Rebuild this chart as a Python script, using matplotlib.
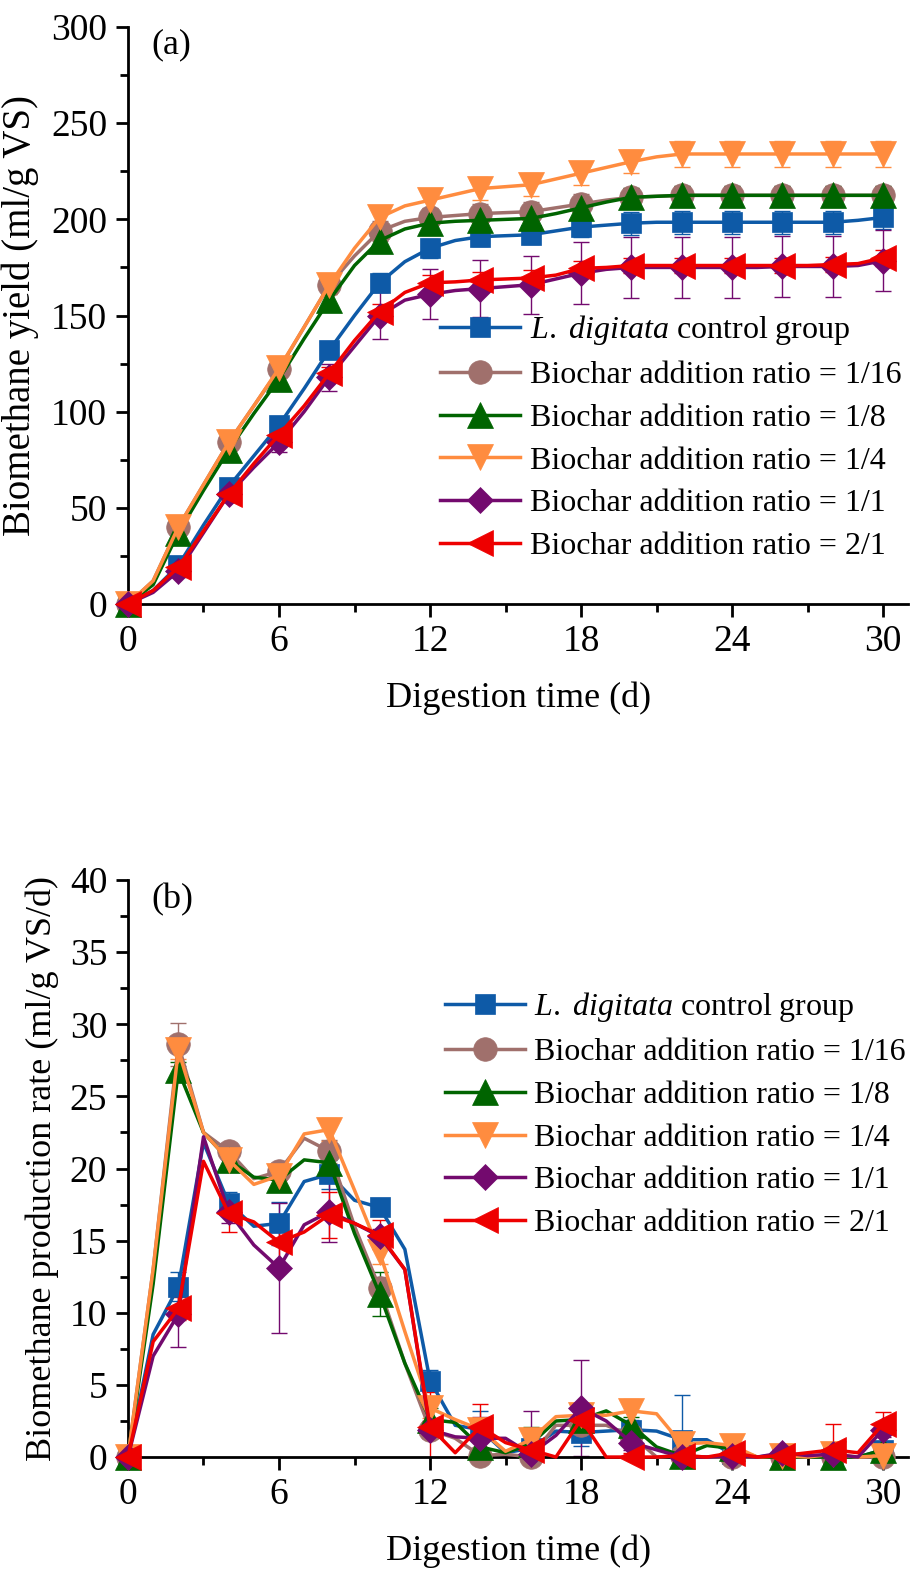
import numpy as np
import matplotlib
matplotlib.use("Agg")
import matplotlib.pyplot as plt
from matplotlib.ticker import MultipleLocator

plt.rcParams['font.family'] = ['Liberation Serif', 'DejaVu Serif']
plt.rcParams['mathtext.fontset'] = 'custom'
plt.rcParams['mathtext.rm'] = 'Liberation Serif'
plt.rcParams['mathtext.it'] = 'Liberation Serif:italic'

days = list(range(31))

labels = [r"$\mathit{L.}$ $\mathit{digitata}$ control group",
          "Biochar addition ratio = 1/16",
          "Biochar addition ratio = 1/8",
          "Biochar addition ratio = 1/4",
          "Biochar addition ratio = 1/1",
          "Biochar addition ratio = 2/1"]

# ---- Panel (a): cumulative biomethane yield (ml/g VS), daily
yield_control = [0, 7, 20, 41, 61, 77, 93, 112, 132, 150, 167, 178, 185, 189, 191, 191.5,
                 192, 194, 196, 197, 198, 198.5, 198.5, 198.5, 198.5, 198.5, 198.5, 198.5, 198.5, 199.5, 201]
yield_1_16 = [0, 12, 40, 62, 84, 103, 122, 144, 166, 181, 194, 199, 201, 202, 203, 203.5,
              204, 206, 208, 210, 211.5, 212, 212.5, 212.5, 212.5, 212.5, 212.5, 212.5, 212.5, 212.5, 212.5]
yield_1_8 = [0, 10, 37, 59, 80, 99, 117, 138, 158, 176, 189, 195, 198, 199, 199.5, 200,
             200.5, 203, 206, 209, 211.5, 212, 212.5, 212.5, 212.5, 212.5, 212.5, 212.5, 212.5, 212.5, 212.5]
yield_1_4 = [0, 12, 40, 62, 84, 103, 122.5, 144, 166, 185, 201, 207, 210, 213, 216, 217,
             218, 221, 224, 227, 230, 232.5, 234, 234, 234, 234, 234, 234, 234, 234, 234]
yield_1_1 = [0, 6, 17, 37, 57, 71, 84, 100, 118, 134, 150, 158, 161, 163, 164, 165,
             166, 169, 172, 174, 175, 175, 175, 175, 175, 175, 175.5, 175.5, 175.5, 176, 178.5]
yield_2_1 = [0, 7, 19, 38, 57, 73, 88, 103, 120, 137, 152, 162, 167, 167.5, 168.5, 169,
             169.5, 171, 174.5, 175, 176, 176, 176, 176, 176, 176, 176, 176, 176.5, 177, 180]

# error bars (a) at marker days 0,2,...,30
yerr_control = [0, 3, 4, 4, 4, 5, 5, 5, 5, 5, 6, 6, 6, 6, 6, 6]
yerr_1_16 = [0, 3, 4, 4, 5, 5, 5, 5, 5, 5, 5, 5, 5, 5, 5, 5]
yerr_1_8 = [0, 4, 5, 5, 5, 5, 5, 5, 5, 5, 5, 5, 5, 5, 5, 5]
yerr_1_4 = [0, 3, 4, 4, 5, 5, 6, 6, 6, 6, 6, 7, 7, 7, 7, 7]
yerr_1_1 = [0, 3, 4, 5, 7, 12, 13, 15, 15, 16, 16, 16, 16, 16, 16, 16]
yerr_2_1 = [0, 2, 3, 3, 3, 4, 4, 4, 4, 4, 4, 4, 4, 4, 4, 4]

# ---- Panel (b): daily biomethane production rate (ml/g VS/d)
rate_control = [0, 8.5, 11.8, 21.8, 17.6, 16.0, 16.2, 19.1, 19.6, 17.8, 17.3, 14.4, 5.3, 2.2, 1.9, 0.3,
                0.6, 1.8, 1.7, 1.8, 1.9, 1.8, 1.2, 1.2, 0.2, 0, 0.2, 0, 0, 0, 0.5]
rate_1_16 = [0, 13, 28.6, 22.5, 21.2, 19.3, 19.8, 22.1, 21.2, 16.0, 11.7, 6.5, 1.9, 1.3, 0.1, 0.2,
             0, 2.2, 2.2, 2.2, 1.5, 0, 0.1, 0, 0, 0, 0, 0, 0, 0, 0]
rate_1_8 = [0, 12, 26.8, 22.5, 20.6, 19.4, 19.2, 20.6, 20.4, 15.5, 11.3, 6.5, 2.6, 2.4, 0.7, 0.3,
            0.9, 2.5, 2.6, 3.2, 2.2, 0.7, 0.1, 0.8, 0.6, 0, 0, 0, 0, 0, 0.5]
rate_1_4 = [0, 13, 28.2, 22.5, 20.6, 18.9, 19.5, 22.4, 22.7, 18.5, 14.2, 8.7, 3.4, 2.6, 1.9, 0.4,
            1.2, 2.8, 2.9, 2.9, 3.2, 3.0, 0.9, 1.0, 0.8, 0, 0.1, 0, 0.2, 0, 0.1]
rate_1_1 = [0, 7, 9.9, 22.2, 17.0, 14.7, 13.1, 16.1, 17.0, 16.2, 15.3, 13.0, 1.9, 1.4, 1.3, 1.3,
            0.2, 1.5, 3.4, 2.5, 1.0, 0.5, 0, 0, 0.1, 0, 0.3, 0.1, 0.2, 0, 1.9]
rate_2_1 = [0, 8, 10.3, 20.5, 16.9, 16.3, 14.9, 15.6, 16.8, 16.2, 15.4, 13.0, 2.1, 0.3, 2.1, 1.0,
            0.5, 0, 2.6, 0, 0, 0, 0.1, 0, 0.3, 0, 0.1, 0.3, 0.5, 0.3, 2.3]

rerr_control = [0, 1.0, 0.8, 1.5, 1.0, 0.5, 0.7, 1.3, 0.6, 0.9, 0.7, 3.1, 0.5, 0.3, 0.3, 0.3]
rerr_1_16 = [0, 1.5, 0.6, 0.6, 0.8, 0.8, 0.6, 0.3, 0.3, 0.4, 0.5, 0.3, 0.2, 0.2, 0.2, 0.2]
rerr_1_8 = [0, 0.6, 0.5, 0.7, 0.8, 1.5, 0.8, 0.6, 1.2, 0.6, 0.6, 0.4, 0.6, 0.3, 0.2, 0.3]
rerr_1_4 = [0, 0.6, 0.6, 0.7, 0.8, 0.8, 0.7, 0.4, 0.6, 0.5, 0.8, 0.3, 0.3, 0.2, 0.2, 0.2]
rerr_1_1 = [0, 2.3, 0.8, 4.5, 2.1, 0.5, 0.6, 1.5, 3.0, 3.3, 0.5, 1.0, 0.4, 0.3, 0.3, 0.5]
rerr_2_1 = [0, 0.8, 1.3, 1.6, 1.6, 1.0, 2.4, 1.6, 0.8, 0.6, 0.3, 0.3, 0.3, 0.3, 1.8, 0.8]

colors = ['#0E5AA7', '#A0706C', '#006400', '#FF8C3F', '#730A6E', '#EE0000']
markers = ['s', 'o', '^', 'v', 'D', '<']
msizes = [15, 17, 19, 19, 13, 19]

yields = [yield_control, yield_1_16, yield_1_8, yield_1_4, yield_1_1, yield_2_1]
yerrs = [yerr_control, yerr_1_16, yerr_1_8, yerr_1_4, yerr_1_1, yerr_2_1]
rates = [rate_control, rate_1_16, rate_1_8, rate_1_4, rate_1_1, rate_2_1]
rerrs = [rerr_control, rerr_1_16, rerr_1_8, rerr_1_4, rerr_1_1, rerr_2_1]

fig = plt.figure(figsize=(9.24, 15.74), dpi=100)
axA = fig.add_axes([0.1385, 0.6163, 0.8445, 0.3665])
axB = fig.add_axes([0.1385, 0.0743, 0.8445, 0.3666])

TICK_FS = 27
LABEL_FS = 26
LEG_FS = 23


def draw(ax, series, errs):
    x = np.array(days)
    xe = x[::2]
    handles = []
    for i in range(6):
        y = np.array(series[i], dtype=float)
        ax.errorbar(xe, y[::2], yerr=errs[i], fmt='none', ecolor=colors[i],
                    elinewidth=1.0, capsize=6, capthick=1.0, zorder=2 + i * 0.1)
        h, = ax.plot(x, y, color=colors[i], lw=2.5, marker=markers[i], ms=msizes[i],
                     markevery=2, mec=colors[i], mew=0.5, zorder=3 + i * 0.1,
                     label=labels[i], clip_on=False)
        handles.append(h)
    for s in ['top', 'right']:
        ax.spines[s].set_visible(False)
    for s in ['left', 'bottom']:
        ax.spines[s].set_linewidth(2.0)
    ax.set_xlim(0, 31)
    ax.xaxis.set_major_locator(MultipleLocator(6))
    ax.xaxis.set_minor_locator(MultipleLocator(3))
    ax.tick_params(which='major', direction='out', length=9, width=2.0, labelsize=TICK_FS, pad=6)
    ax.tick_params(which='minor', direction='out', length=6, width=2.0)
    ax.set_xlabel("Digestion time (d)", fontsize=LABEL_FS, labelpad=16)
    return handles


hA = draw(axA, yields, yerrs)
axA.set_ylim(0, 300)
axA.yaxis.set_major_locator(MultipleLocator(50))
axA.yaxis.set_minor_locator(MultipleLocator(25))
axA.set_ylabel("Biomethane yield (ml/g VS)", fontsize=28, labelpad=9)
axA.text(0.03, 0.969, "(a)", transform=axA.transAxes, fontsize=LABEL_FS, va='center', ha='left')
axA.legend(handles=hA, loc='center left', bbox_to_anchor=(0.40, 0.289), frameon=False,
           fontsize=LEG_FS, handlelength=2.5, handletextpad=0.3, labelspacing=0.42,
           borderpad=0, borderaxespad=0)

hB = draw(axB, rates, rerrs)
axB.set_ylim(0, 40)
axB.yaxis.set_major_locator(MultipleLocator(5))
axB.yaxis.set_minor_locator(MultipleLocator(2.5))
axB.set_ylabel("Biomethane production rate (ml/g VS/d)", fontsize=LABEL_FS, labelpad=8)
axB.text(0.03, 0.965, "(b)", transform=axB.transAxes, fontsize=LABEL_FS, va='center', ha='left')
axB.legend(handles=hB, loc='center left', bbox_to_anchor=(0.406, 0.594), frameon=False,
           fontsize=LEG_FS, handlelength=2.5, handletextpad=0.3, labelspacing=0.42,
           borderpad=0, borderaxespad=0)

fig.savefig("out.png", dpi=100)
